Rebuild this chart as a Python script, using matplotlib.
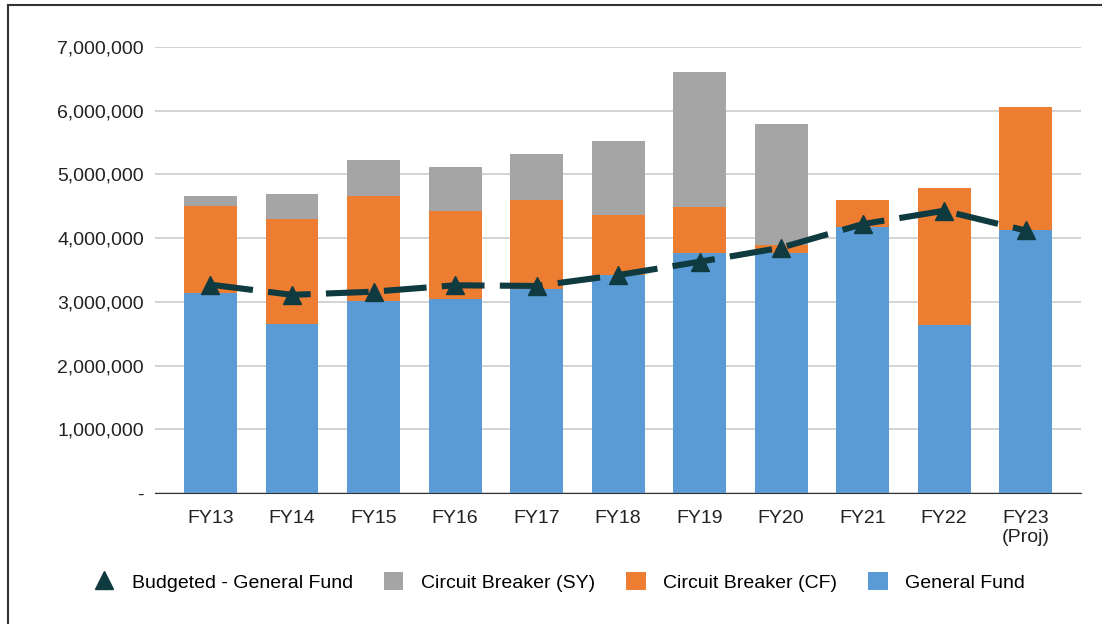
import matplotlib.pyplot as plt
import numpy as np
from matplotlib.ticker import FuncFormatter
from matplotlib.lines import Line2D

# Data -------------------------------------------------------------------------
years = ['FY13', 'FY14', 'FY15', 'FY16', 'FY17', 'FY18', 'FY19', 'FY20',
         'FY21', 'FY22', 'FY23\n(Proj)']
general_fund = [3140000, 2650000, 3010000, 3040000, 3200000, 3420000,
                3770000, 3770000, 4170000, 2640000, 4130000]
cb_cf = [1360000, 1650000, 1650000, 1390000, 1400000, 940000,
         720000, 120000, 430000, 2150000, 1930000]
cb_sy = [160000, 390000, 570000, 690000, 720000, 1160000,
         2120000, 1900000, 0, 0, 0]
budgeted = [3270000, 3110000, 3160000, 3260000, 3250000, 3420000,
            3630000, 3850000, 4220000, 4430000, 4120000]

plt.rcParams['font.family'] = ['Liberation Sans', 'DejaVu Sans']

fig = plt.figure(figsize=(11.02, 6.24), dpi=100)
ax = fig.add_axes([0.1407, 0.2099, 0.981 - 0.1407, 0.9247 - 0.2099])

x = np.arange(len(years))
w = 0.65
gf = np.array(general_fund)
cf = np.array(cb_cf)
sy = np.array(cb_sy)
line_col = '#0f3a40'

b1 = ax.bar(x, gf, w, color='#5b9bd5', zorder=2)
b2 = ax.bar(x, cf, w, bottom=gf, color='#ed7d31', zorder=2)
b3 = ax.bar(x, sy, w, bottom=gf + cf, color='#a5a5a5', zorder=2)
ax.plot(x, budgeted, color=line_col, lw=4.4, dashes=(7, 2.5), marker='^',
        markersize=13, zorder=3)

ax.set_xlim(-0.68, 10.68)
ax.set_ylim(0, 7000000)
ax.set_yticks(np.arange(0, 7000001, 1000000))
ax.yaxis.set_major_formatter(FuncFormatter(lambda v, p: '-' if v == 0 else f'{int(v):,}'))
ax.set_xticks(x)
ax.set_xticklabels(years)
ax.tick_params(axis='both', length=0, labelsize=14, colors='#222222')
ax.tick_params(axis='x', pad=12)
ax.tick_params(axis='y', pad=8)
ax.grid(axis='y', color='#cccccc', lw=1.2, zorder=0)
for s in ['top', 'right', 'left']:
    ax.spines[s].set_visible(False)
ax.spines['bottom'].set_color('#333333')

# legend, same order as the picture
tri = Line2D([], [], color=line_col, marker='^', markersize=13, linestyle='none')
fig.legend([tri, b3, b2, b1],
           ['Budgeted - General Fund', 'Circuit Breaker (SY)',
            'Circuit Breaker (CF)', 'General Fund'],
           loc='center', bbox_to_anchor=(0.508, 1 - 582 / 624), ncol=4,
           frameon=False, fontsize=14, handlelength=1.0, handleheight=1.0,
           columnspacing=1.6, handletextpad=0.9)

# frame lines at left and top of the image
fig.add_artist(Line2D([8 / 1102, 8 / 1102], [0, 1 - 5 / 624], color='#333333', lw=1.5))
fig.add_artist(Line2D([8 / 1102, 1], [1 - 5 / 624, 1 - 5 / 624], color='#333333', lw=1.5))

fig.savefig('out.png', dpi=100)
